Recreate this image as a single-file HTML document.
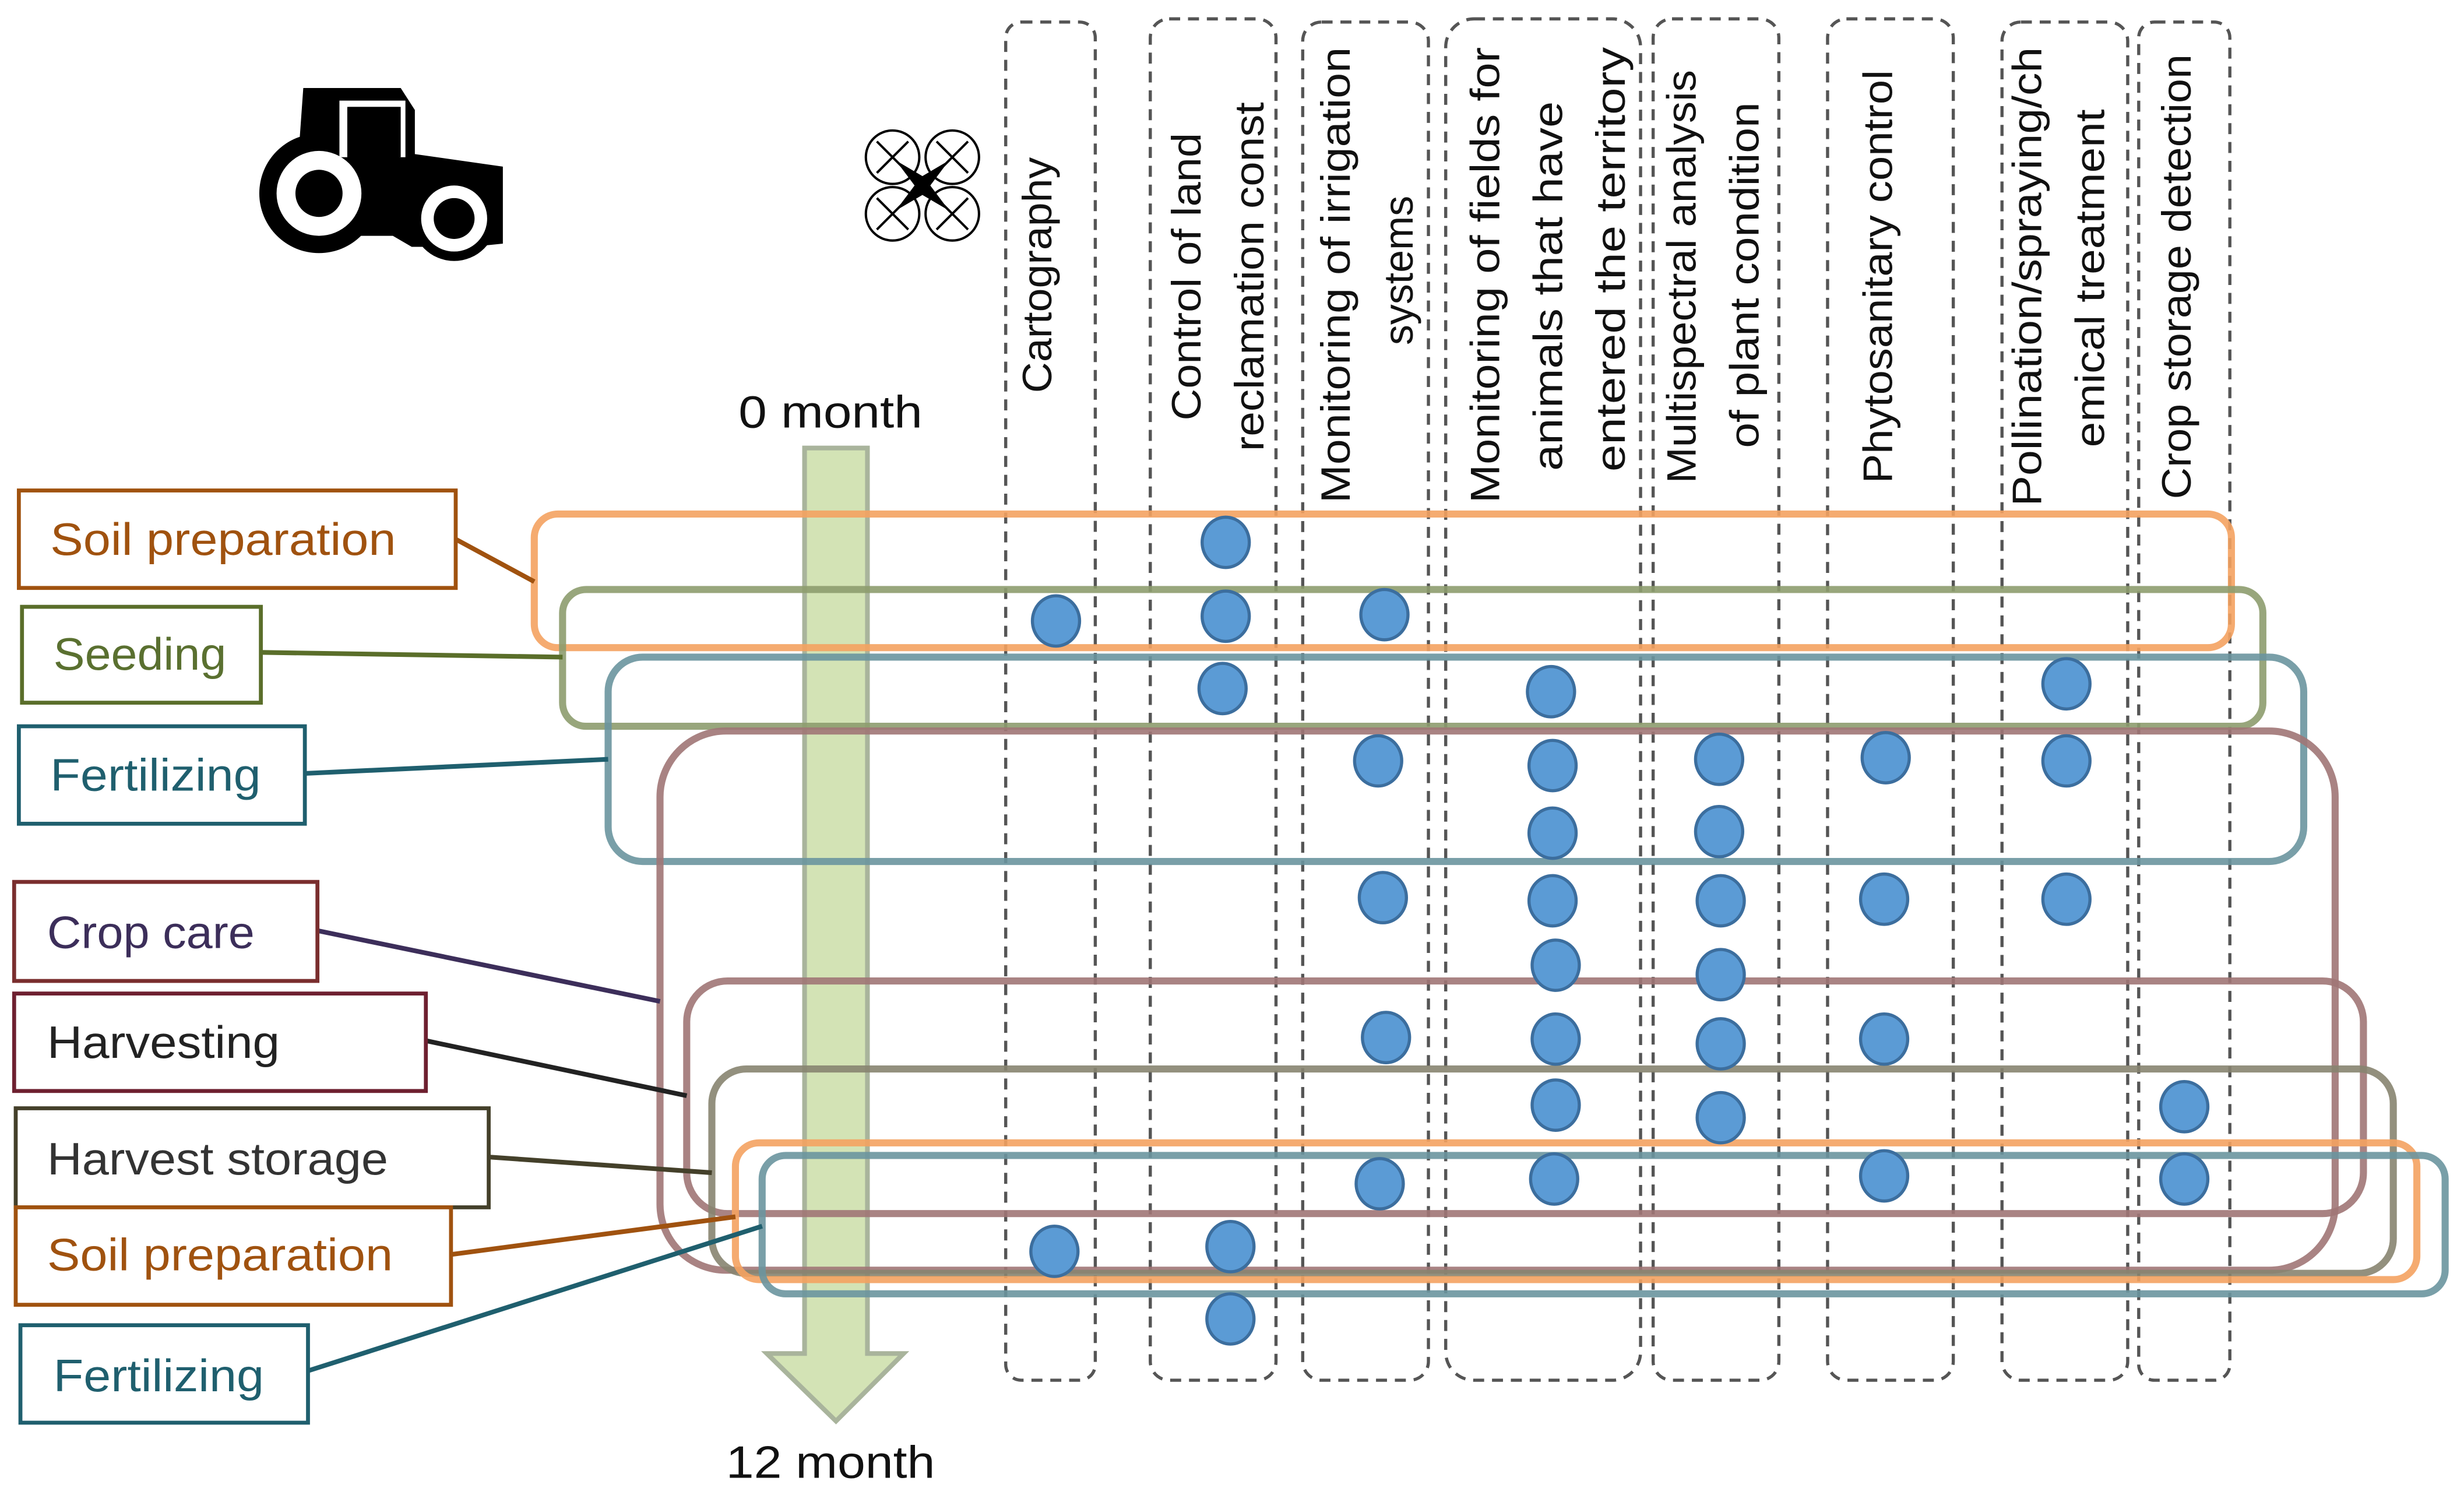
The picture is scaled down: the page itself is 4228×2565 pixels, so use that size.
<!DOCTYPE html>
<html><head><meta charset="utf-8"><style>
html,body{margin:0;padding:0;background:#fff;}
svg{display:block;}
.col{fill:none;stroke:#555;stroke-width:2;stroke-dasharray:7,5;}
.ht{font-family:"Liberation Sans",sans-serif;font-size:26px;fill:#111;text-anchor:middle;}
.lb{font-family:"Liberation Sans Narrow","Liberation Sans",sans-serif;font-size:29px;}
.box{fill:#fff;stroke-width:2.5;}
.grp{fill:none;stroke-width:4.5;stroke-opacity:0.9;}
.d{fill:#5B9BD5;stroke:#3C6E9E;stroke-width:2;}
</style></head><body>
<svg width="4228" height="2565" viewBox="0 0 1568 951" preserveAspectRatio="none" xmlns="http://www.w3.org/2000/svg">
<rect width="1568" height="951" fill="#fff"/>
<!-- tractor -->
<g fill="#000">
<path d="M193,56 L255,56 L264,70 L264,98 L320,106 L320,155 L300,157 L262,157 L250,150 L225,150 L222,110 L215,92 L210,100 L190,98 Z"/>
<circle cx="203" cy="123" r="38"/>
<circle cx="289" cy="139" r="27"/>
</g>
<rect x="216" y="64" width="42" height="36" fill="#fff"/>
<rect x="221" y="68" width="33" height="33" fill="#000"/>
<path d="M222,68 L222,100 L255,100 L255,68 Z" fill="#000"/>
<circle cx="203" cy="123" r="27" fill="#fff"/>
<circle cx="203" cy="123" r="15" fill="#000"/>
<circle cx="289" cy="139" r="21" fill="#fff"/>
<circle cx="289" cy="139" r="13" fill="#000"/>
<!-- drone -->
<g stroke="#000" fill="none" stroke-width="1.5">
<circle cx="568" cy="100" r="17"/><circle cx="606" cy="100" r="17"/>
<circle cx="568" cy="136" r="17"/><circle cx="606" cy="136" r="17"/>
<path d="M558,90 L578,110 M578,90 L558,110 M596,90 L616,110 M616,90 L596,110 M558,126 L578,146 M578,126 L558,146 M596,126 L616,146 M616,126 L596,146"/>
</g>
<path d="M570,102 L587,112 L604,102 L592,118 L604,134 L587,124 L570,134 L582,118 Z" fill="#000"/>
<!-- dashed columns -->
<rect class="col" x="640" y="14" width="57" height="864" rx="10"/>
<rect class="col" x="732" y="12" width="80" height="866" rx="12"/>
<rect class="col" x="829" y="14" width="80" height="864" rx="12"/>
<rect class="col" x="920" y="12" width="124" height="866" rx="18"/>
<rect class="col" x="1052" y="12" width="80" height="866" rx="12"/>
<rect class="col" x="1163" y="12" width="80" height="866" rx="12"/>
<rect class="col" x="1274" y="14" width="80" height="864" rx="12"/>
<rect class="col" x="1361" y="14" width="58" height="864" rx="10"/>
<!-- headers -->
<g class="ht">
<text transform="translate(669,175) rotate(-90)" textLength="150" lengthAdjust="spacingAndGlyphs">Cartography</text>
<text transform="translate(764,176) rotate(-90)" textLength="183" lengthAdjust="spacingAndGlyphs">Control of land</text>
<text transform="translate(804,176) rotate(-90)" textLength="222" lengthAdjust="spacingAndGlyphs">reclamation const</text>
<text transform="translate(859,175) rotate(-90)" textLength="290" lengthAdjust="spacingAndGlyphs">Monitoring of irrigation</text>
<text transform="translate(899,172) rotate(-90)" textLength="95" lengthAdjust="spacingAndGlyphs">systems</text>
<text transform="translate(954,175) rotate(-90)" textLength="290" lengthAdjust="spacingAndGlyphs">Monitoring of fields for</text>
<text transform="translate(994,182) rotate(-90)" textLength="235" lengthAdjust="spacingAndGlyphs">animals that have</text>
<text transform="translate(1034,165) rotate(-90)" textLength="270" lengthAdjust="spacingAndGlyphs">entered the territory</text>
<text transform="translate(1079,176) rotate(-90)" textLength="263" lengthAdjust="spacingAndGlyphs">Multispectral analysis</text>
<text transform="translate(1119,175) rotate(-90)" textLength="220" lengthAdjust="spacingAndGlyphs">of plant condition</text>
<text transform="translate(1204,176) rotate(-90)" textLength="263" lengthAdjust="spacingAndGlyphs">Phytosanitary control</text>
<text transform="translate(1299,176) rotate(-90)" textLength="292" lengthAdjust="spacingAndGlyphs">Pollination/spraying/ch</text>
<text transform="translate(1339,177) rotate(-90)" textLength="215" lengthAdjust="spacingAndGlyphs">emical treatment</text>
<text transform="translate(1394,176) rotate(-90)" textLength="283" lengthAdjust="spacingAndGlyphs">Crop storage detection</text>
</g>
<!-- arrow -->
<path d="M512,285 L552,285 L552,861 L575,861 L532,904 L488,861 L512,861 Z" fill="#D3E3B5" stroke="#A9B49C" stroke-width="3"/>
<text x="470" y="272" class="lb" style="fill:#111;font-size:29px" textLength="117" lengthAdjust="spacingAndGlyphs">0 month</text>
<text x="462" y="940" class="lb" style="fill:#111;font-size:29px" textLength="133" lengthAdjust="spacingAndGlyphs">12 month</text>
<!-- group rects -->
<rect class="grp" x="340" y="327" width="1080" height="85" rx="15" stroke="#F4A261"/>
<rect class="grp" x="358" y="375" width="1082" height="87" rx="15" stroke="#8D9C6E"/>
<rect class="grp" x="387" y="418" width="1079" height="130" rx="22" stroke="#6A959E"/>
<rect class="grp" x="420" y="465" width="1066" height="343" rx="42" stroke="#A07676"/>
<rect class="grp" x="437" y="624" width="1067" height="148" rx="26" stroke="#A07676"/>
<rect class="grp" x="453" y="680" width="1070" height="130" rx="22" stroke="#878470"/>
<rect class="grp" x="468" y="727" width="1070" height="87" rx="15" stroke="#F4A261"/>
<rect class="grp" x="485" y="735" width="1071" height="88" rx="15" stroke="#6A959E"/>
<!-- dots -->
<g class="d">
<ellipse cx="780" cy="345" rx="15" ry="16"/>
<ellipse cx="672" cy="395" rx="15" ry="16"/><ellipse cx="780" cy="392" rx="15" ry="16"/><ellipse cx="881" cy="391" rx="15" ry="16"/>
<ellipse cx="778" cy="438" rx="15" ry="16"/><ellipse cx="987" cy="440" rx="15" ry="16"/><ellipse cx="1315" cy="435" rx="15" ry="16"/>
<ellipse cx="877" cy="484" rx="15" ry="16"/><ellipse cx="988" cy="487" rx="15" ry="16"/><ellipse cx="1094" cy="483" rx="15" ry="16"/><ellipse cx="1200" cy="482" rx="15" ry="16"/><ellipse cx="1315" cy="484" rx="15" ry="16"/>
<ellipse cx="988" cy="530" rx="15" ry="16"/><ellipse cx="1094" cy="529" rx="15" ry="16"/>
<ellipse cx="880" cy="571" rx="15" ry="16"/><ellipse cx="988" cy="573" rx="15" ry="16"/><ellipse cx="1095" cy="573" rx="15" ry="16"/><ellipse cx="1199" cy="572" rx="15" ry="16"/><ellipse cx="1315" cy="572" rx="15" ry="16"/>
<ellipse cx="990" cy="614" rx="15" ry="16"/><ellipse cx="1095" cy="620" rx="15" ry="16"/>
<ellipse cx="882" cy="660" rx="15" ry="16"/><ellipse cx="990" cy="661" rx="15" ry="16"/><ellipse cx="1095" cy="664" rx="15" ry="16"/><ellipse cx="1199" cy="661" rx="15" ry="16"/>
<ellipse cx="990" cy="703" rx="15" ry="16"/><ellipse cx="1095" cy="711" rx="15" ry="16"/><ellipse cx="1390" cy="704" rx="15" ry="16"/>
<ellipse cx="878" cy="753" rx="15" ry="16"/><ellipse cx="989" cy="750" rx="15" ry="16"/><ellipse cx="1199" cy="748" rx="15" ry="16"/><ellipse cx="1390" cy="750" rx="15" ry="16"/>
<ellipse cx="671" cy="796" rx="15" ry="16"/><ellipse cx="783" cy="793" rx="15" ry="16"/>
<ellipse cx="783" cy="839" rx="15" ry="16"/>
</g>
<!-- connectors -->
<g stroke-width="3" fill="none">
<line x1="290" y1="343" x2="340" y2="370" stroke="#A0520F"/>
<line x1="166" y1="415" x2="358" y2="418" stroke="#5A6E2A"/>
<line x1="194" y1="492" x2="387" y2="483" stroke="#1F5F6E"/>
<line x1="202" y1="592" x2="420" y2="637" stroke="#3C2E5A"/>
<line x1="271" y1="662" x2="437" y2="697" stroke="#222"/>
<line x1="311" y1="736" x2="453" y2="746" stroke="#44402A"/>
<line x1="287" y1="798" x2="468" y2="774" stroke="#A0520F"/>
<line x1="196" y1="872" x2="485" y2="780" stroke="#1F5F6E"/>
</g>
<!-- label boxes -->
<rect class="box" x="12" y="312" width="278" height="62" stroke="#A0520F"/>
<text class="lb" x="32" y="353" fill="#A0520F" textLength="220" lengthAdjust="spacingAndGlyphs">Soil preparation</text>
<rect class="box" x="14" y="386" width="152" height="61" stroke="#5A6E2A"/>
<text class="lb" x="34" y="426" fill="#5A7030" textLength="110" lengthAdjust="spacingAndGlyphs">Seeding</text>
<rect class="box" x="12" y="462" width="182" height="62" stroke="#1F5F6E"/>
<text class="lb" x="32" y="503" fill="#1F5F6E" textLength="134" lengthAdjust="spacingAndGlyphs">Fertilizing</text>
<rect class="box" x="9" y="561" width="193" height="63" stroke="#7A2E2E"/>
<text class="lb" x="30" y="603" fill="#3C2E5A" textLength="132" lengthAdjust="spacingAndGlyphs">Crop care</text>
<rect class="box" x="9" y="632" width="262" height="62" stroke="#6E2030"/>
<text class="lb" x="30" y="673" fill="#222" textLength="148" lengthAdjust="spacingAndGlyphs">Harvesting</text>
<rect class="box" x="10" y="705" width="301" height="63" stroke="#44402A"/>
<text class="lb" x="30" y="747" fill="#333" textLength="217" lengthAdjust="spacingAndGlyphs">Harvest storage</text>
<rect class="box" x="10" y="768" width="277" height="62" stroke="#A0520F"/>
<text class="lb" x="30" y="808" fill="#A0520F" textLength="220" lengthAdjust="spacingAndGlyphs">Soil preparation</text>
<rect class="box" x="13" y="843" width="183" height="62" stroke="#1F5F6E"/>
<text class="lb" x="34" y="885" fill="#1F5F6E" textLength="134" lengthAdjust="spacingAndGlyphs">Fertilizing</text>
</svg>
</body></html>
